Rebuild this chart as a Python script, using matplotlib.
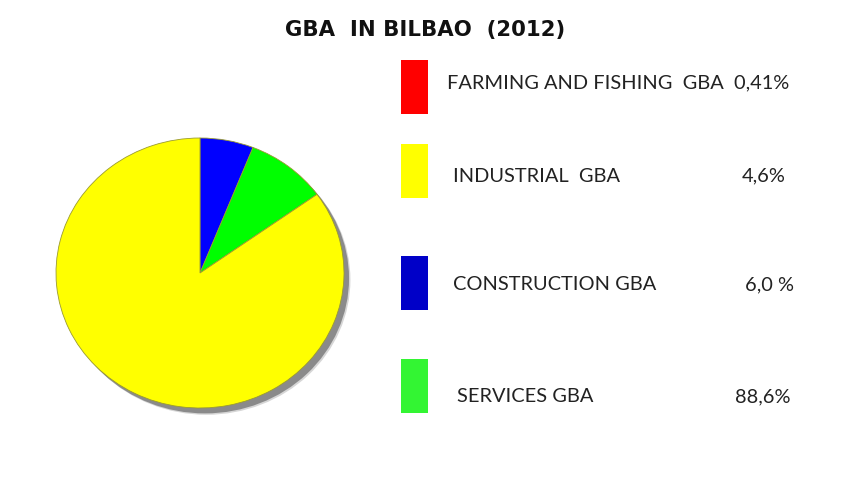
import numpy as np
import matplotlib.pyplot as plt
from matplotlib.patches import Ellipse, Rectangle
import matplotlib.patheffects as pe

W, H = 850, 493

# legend entries as printed
labels = ["FARMING AND FISHING  GBA", "INDUSTRIAL  GBA", "CONSTRUCTION GBA", "SERVICES GBA"]
pct_text = ["0,41%", "4,6%", "6,0 %", "88,6%"]
legend_colors = ["#ff0000", "#ffff00", "#0000c8", "#33f533"]

# slice sizes as drawn in the pie (clockwise from 12 o'clock)
pie_values = [6.0, 9.1, 84.9]
pie_colors = ["#0000ff", "#00ff00", "#ffff00"]


def fx(px):
    return px / W


def fy(py):
    return 1 - py / H


fig = plt.figure(figsize=(W / 100, H / 100), dpi=100)
fig.patch.set_facecolor("white")

fig.text(fx(425), fy(30), "GBA  IN BILBAO  (2012)", ha="center", va="center",
         fontsize=15.3, fontweight="bold", family="DejaVu Sans", color="#111111")

# pie axes, 144 px per unit across, 135 px per unit down
x0, x1, y0, y1 = 40, 370, 120, 430
cx, cy, rx, ry = 200, 273, 144, 135
ax = fig.add_axes([fx(x0), fy(y1), (x1 - x0) / W, (y1 - y0) / H])

shadow = Ellipse((0.035, -0.04), 2.0, 2.0, facecolor="#8a8a8a", edgecolor="none",
                 path_effects=[pe.SimplePatchShadow(offset=(1, -1), shadow_rgbFace="#bbbbbb", alpha=0.6), pe.Normal()])
ax.add_patch(shadow)

ax.pie(pie_values, colors=pie_colors, startangle=90, counterclock=False, radius=1.0,
       center=(0, 0), frame=True,
       wedgeprops=dict(edgecolor="#9a9a30", linewidth=0.6))
ax.set_xlim((x0 - cx) / rx, (x1 - cx) / rx)
ax.set_ylim(-(y1 - cy) / ry, (cy - y0) / ry)
ax.set_aspect("auto")
ax.axis("off")

# legend boxes and texts
box_tops = [60, 144, 256, 359]
text_x = [447, 453, 453, 457]
text_y = [83, 176, 285, 397]
pct_right = [786, 786, 794, 791]
fs = 14.4
for i in range(4):
    fig.patches.append(Rectangle((fx(401), fy(box_tops[i] + 54)), 27 / W, 54 / H,
                                 transform=fig.transFigure, facecolor=legend_colors[i],
                                 edgecolor="none"))
    if i == 0:
        fig.text(fx(text_x[i]), fy(text_y[i]), labels[i] + "  " + pct_text[i],
                 ha="left", va="center", fontsize=fs, family="Lato", color="#222222")
    else:
        fig.text(fx(text_x[i]), fy(text_y[i]), labels[i], ha="left", va="center",
                 fontsize=fs, family="Lato", color="#222222")
        fig.text(fx(pct_right[i]), fy(text_y[i]), pct_text[i], ha="right", va="center",
                 fontsize=fs, family="Lato", color="#222222")

fig.savefig("out.png", dpi=100)
